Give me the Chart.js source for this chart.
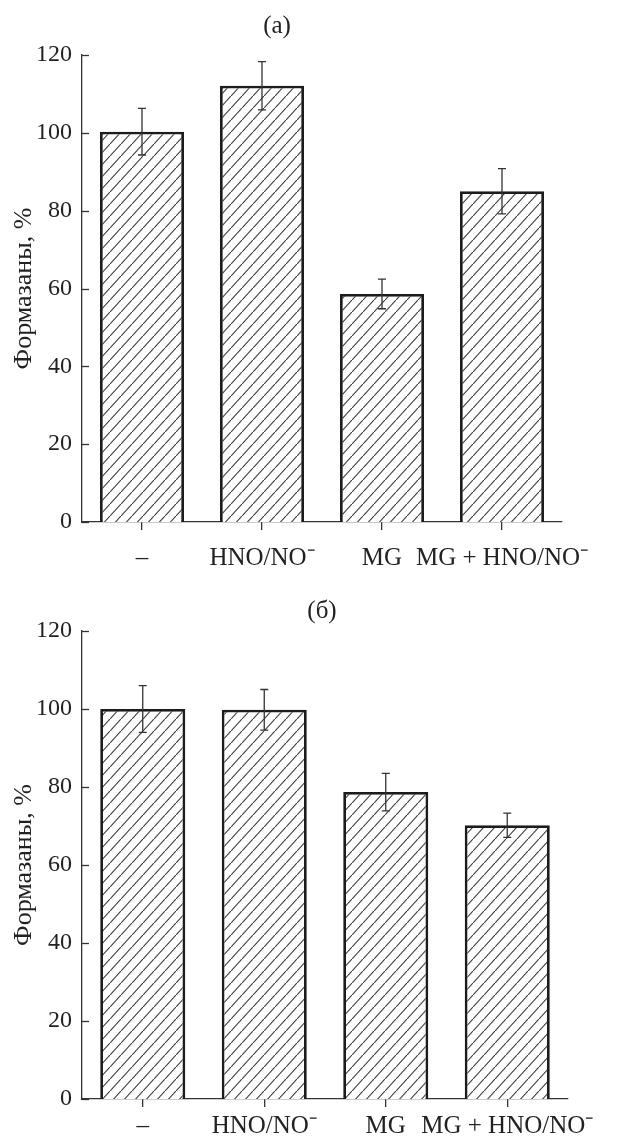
<!DOCTYPE html>
<html>
<head>
<meta charset="utf-8">
<script src="https://cdn.jsdelivr.net/npm/chart.js@4.4.1/dist/chart.umd.min.js"></script>
<style>
  html, body { margin: 0; padding: 0; background: #fff; }
  #wrap { position: relative; width: 640px; height: 1142px; overflow: hidden; }
  .panel { position: absolute; left: 0; width: 640px; }
  .ptitle { position: absolute; font-family: "Liberation Serif", "Times New Roman", serif; font-size: 25px;
            color: #222; transform: translate(-50%, -50%); white-space: nowrap; }
</style>
</head>
<body>
<div id="wrap">
  <div class="panel" style="top:0;height:575px"><canvas id="chartA" width="640" height="575"></canvas></div>
  <div class="panel" style="top:575px;height:567px"><canvas id="chartB" width="640" height="567"></canvas></div>
  <div class="ptitle" style="left:277px;top:25px">(а)</div>
  <div class="ptitle" style="left:322px;top:610px">(б)</div>
</div>
<script>
// Treatment groups (shared by both panels)
const categories = ['–', 'HNO/NO⁻', 'MG', 'MG + HNO/NO⁻'];

// Panel (а): formazan level, % of control, with error
const valuesA = [100.3, 112.1, 58.6, 85.0];
const errorsA = [6.0, 6.2, 3.8, 5.8];

// Panel (б)
const valuesB = [100.0, 99.8, 78.7, 70.2];
const errorsB = [6.0, 5.2, 4.8, 3.1];

// Y axis ticks
const yTicks = [0, 20, 40, 60, 80, 100, 120];

const FONT = '"Liberation Serif", "Times New Roman", serif';
const INK = '#222';

// Diagonal hatch fill
function makeHatch() {
  const w = 11, h = 12;
  const c = document.createElement('canvas');
  c.width = w; c.height = h;
  const g = c.getContext('2d');
  g.fillStyle = '#fff';
  g.fillRect(0, 0, w, h);
  g.strokeStyle = '#3a3a3a';
  g.lineWidth = 1.1;
  g.beginPath();
  g.moveTo(-w, 2 * h); g.lineTo(2 * w, -h);
  g.stroke();
  return g.createPattern(c, 'repeat');
}

// Error bars drawn at each bar's position from the y scale
const errorBars = {
  id: 'errorBars',
  afterDatasetsDraw(chart) {
    const errs = chart.options.plugins.errorBars.errors;
    const vals = chart.data.datasets[0].data;
    const meta = chart.getDatasetMeta(0);
    const y = chart.scales.y;
    const ctx = chart.ctx;
    ctx.save();
    ctx.strokeStyle = '#333';
    ctx.lineWidth = 1.3;
    meta.data.forEach((bar, i) => {
      const yt = y.getPixelForValue(vals[i] + errs[i]);
      const yb = y.getPixelForValue(vals[i] - errs[i]);
      const x = bar.x, cap = 4;
      ctx.beginPath();
      ctx.moveTo(x, yt); ctx.lineTo(x, yb);
      ctx.moveTo(x - cap, yt); ctx.lineTo(x + cap, yt);
      ctx.moveTo(x - cap, yb); ctx.lineTo(x + cap, yb);
      ctx.stroke();
    });
    ctx.restore();
  }
};

// Y tick marks pointing into the plot area
const innerTicks = {
  id: 'innerTicks',
  afterDraw(chart) {
    const y = chart.scales.y;
    const left = chart.chartArea.left;
    const ctx = chart.ctx;
    ctx.save();
    ctx.strokeStyle = '#333';
    ctx.lineWidth = 1.3;
    y.ticks.forEach(t => {
      const py = Math.round(y.getPixelForValue(t.value)) + 0.5;
      ctx.beginPath();
      ctx.moveTo(left, py); ctx.lineTo(left + 7, py);
      ctx.stroke();
    });
    ctx.restore();
  }
};

function makeChart(id, values, errors, cfg) {
  return new Chart(document.getElementById(id), {
    type: 'bar',
    data: {
      labels: categories,
      datasets: [{
        data: values,
        backgroundColor: makeHatch(),
        borderColor: '#1c1c1c',
        borderWidth: 2.8,
        borderSkipped: 'start',
        categoryPercentage: 1.0,
        barPercentage: 0.7
      }]
    },
    options: {
      responsive: false,
      animation: false,
      devicePixelRatio: 1,
      layout: { padding: { top: cfg.top, right: cfg.right, left: 0, bottom: 0 } },
      plugins: {
        legend: { display: false },
        tooltip: { enabled: false },
        title: { display: false },
        errorBars: { errors: errors }
      },
      scales: {
        x: {
          type: 'category',
          offset: true,
          grid: { display: true, offset: false, drawOnChartArea: false, drawTicks: true,
                  tickLength: 8, color: '#333', lineWidth: 1.3 },
          border: { display: true, color: '#333', width: 1.3 },
          ticks: { font: { family: FONT, size: 25 }, color: INK, padding: cfg.labelPad,
                   maxRotation: 0, autoSkip: false },
          afterFit(s) { s.height = cfg.xHeight; }
        },
        y: {
          min: yTicks[0],
          max: yTicks[yTicks.length - 1],
          afterBuildTicks(s) { s.ticks = yTicks.map(v => ({ value: v })); },
          grid: { display: false, drawTicks: false },
          border: { display: true, color: '#333', width: 1.3 },
          ticks: { font: { family: FONT, size: 24 }, color: INK, padding: 10 },
          title: { display: true, text: 'Формазаны, %', color: INK,
                   font: { family: FONT, size: 26 }, padding: { top: 9, bottom: 0 } },
          afterFit(s) { s.width = 82; }
        }
      }
    },
    plugins: [errorBars, innerTicks]
  });
}

makeChart('chartA', valuesA, errorsA, { top: 55, right: 78, xHeight: 53, labelPad: 13 });
makeChart('chartB', valuesB, errorsB, { top: 56, right: 72, xHeight: 43, labelPad: 4 });
</script>
</body>
</html>
